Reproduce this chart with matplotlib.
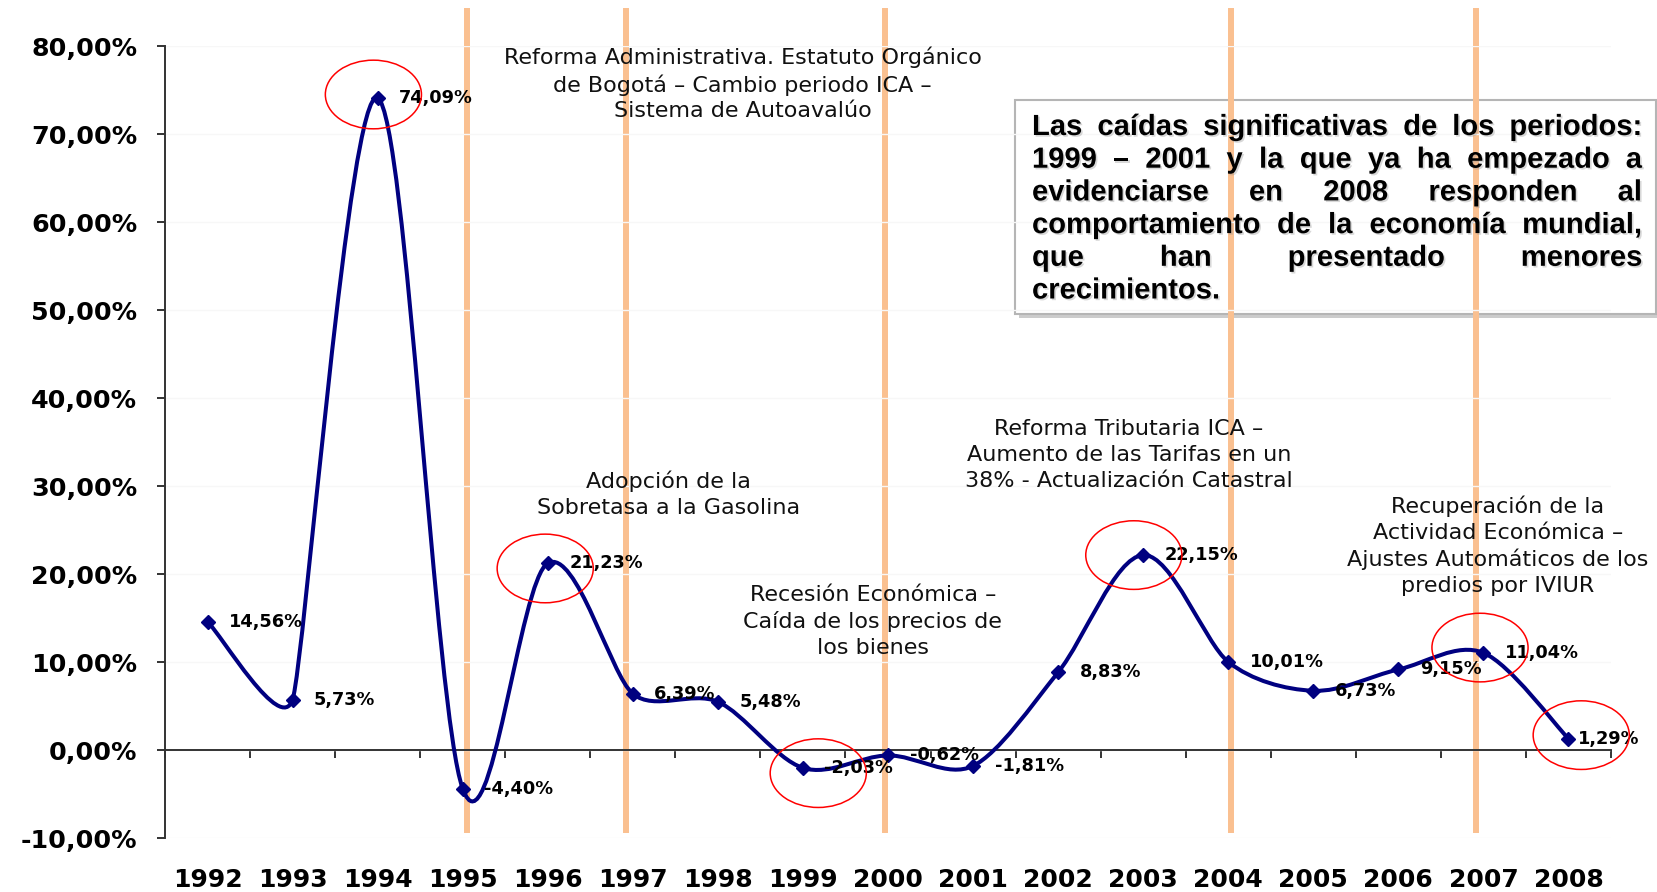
import numpy as np
import matplotlib
matplotlib.use("Agg")
import matplotlib.pyplot as plt
import matplotlib.patheffects as pe
from matplotlib.path import Path
from matplotlib.patches import PathPatch, Ellipse, Rectangle
from matplotlib.ticker import FuncFormatter

# crecimiento anual del recaudo (%)
years = [1992, 1993, 1994, 1995, 1996, 1997, 1998, 1999, 2000,
         2001, 2002, 2003, 2004, 2005, 2006, 2007, 2008]
growth = [14.56, 5.73, 74.09, -4.40, 21.23, 6.39, 5.48, -2.03, -0.62,
          -1.81, 8.83, 22.15, 10.01, 6.73, 9.15, 11.04, 1.29]
y_ticks = [-10, 0, 10, 20, 30, 40, 50, 60, 70, 80]

# años con hechos relevantes (líneas verticales) y puntos resaltados
event_years = [1995, 1997, 2000, 2004, 2007]
highlight_years = [1994, 1996, 1999, 2003, 2007, 2008]

event_notes = [
    "Reforma Administrativa. Estatuto Orgánico\nde Bogotá – Cambio periodo ICA –\nSistema de Autoavalúo",
    "Adopción de la\nSobretasa a la Gasolina",
    "Recesión Económica –\nCaída de los precios de\nlos bienes",
    "Reforma Tributaria ICA –\nAumento de las Tarifas en un\n38% - Actualización Catastral",
    "Recuperación de la\nActividad Económica –\nAjustes Automáticos de los\npredios por IVIUR",
]
note_pos = [(6.79, 75.7), (5.92, 29.1), (8.32, 14.6), (11.33, 33.5), (15.67, 23.2)]

box_lines = [
    "Las caídas significativas de los periodos:",
    "1999 – 2001 y la que ya ha empezado a",
    "evidenciarse en 2008 responden al",
    "comportamiento de la economía mundial,",
    "que han presentado menores",
    "crecimientos.",
]

W, H = 1658, 892
NAVY = "#000080"
ORANGE = "#FAC090"


def pct(v):
    return f"{v:.2f}".replace(".", ",") + "%"


def smooth_curve(ax, xs, ys):
    # catmull-rom en pixeles, con la tangente limitada por el tramo más corto
    pts = ax.transData.transform(np.column_stack([xs, ys]))
    n = len(pts)
    verts = [pts[0]]
    codes = [Path.MOVETO]

    def handle(t, d_a, d_b):
        size = np.linalg.norm(t) / 6
        cap = min(d_a, d_b) / 3
        return t * min(1.0, cap / size) / 6

    for i in range(n - 1):
        p1, p2 = pts[i], pts[i + 1]
        p0 = pts[i - 1] if i > 0 else p1
        p3 = pts[i + 2] if i + 2 < n else p2
        d12 = np.linalg.norm(p2 - p1)
        d01 = np.linalg.norm(p1 - p0) if i > 0 else d12
        d23 = np.linalg.norm(p3 - p2) if i + 2 < n else d12
        c1 = p1 + handle(p2 - p0, d01, d12)
        c2 = p2 - handle(p3 - p1, d12, d23)
        verts += [c1, c2, p2]
        codes += [Path.CURVE4] * 3
    verts = ax.transData.inverted().transform(np.array(verts))
    return Path(verts, codes)


fig = plt.figure(figsize=(W / 100, H / 100), dpi=100, facecolor="white")
ax = fig.add_axes([165 / W, 1 - 838 / H, (1611 - 165) / W, (838 - 46) / H])
ax.patch.set_visible(False)

xpos = np.arange(len(years)) + 0.5
ax.set_xlim(0, len(years))
ax.set_ylim(-10, 80)

# ejes
for s in ["top", "right"]:
    ax.spines[s].set_visible(False)
ax.spines["bottom"].set_position(("data", 0))
for s in ["left", "bottom"]:
    ax.spines[s].set_color("#333333")
    ax.spines[s].set_linewidth(1.4)
ax.set_xticks(np.arange(len(years) + 1))
ax.tick_params(axis="x", direction="out", length=6, width=1.4,
               color="#333333", labelbottom=False)
ax.set_yticks(y_ticks)
ax.yaxis.set_major_formatter(FuncFormatter(lambda v, _: pct(v)))
ax.tick_params(axis="y", direction="out", length=6, width=1.4,
               color="#333333", pad=14)
for lab in ax.get_yticklabels():
    lab.set_fontfamily("DejaVu Sans")
    lab.set_fontweight("bold")
    lab.set_fontsize(18.3)

for x, yr in zip(xpos, years):
    ax.text(x, -0.053, str(yr), transform=ax.get_xaxis_transform(),
            ha="center", va="center", fontsize=18, fontweight="bold",
            family="DejaVu Sans", color="black")

# líneas de eventos (dibujadas a mano, algo corridas) y cuadrícula casi blanca
event_shift = [0.05, -0.08, -0.03, 0.03, -0.09]
for yr, sh in zip(event_years, event_shift):
    ax.axvline(years.index(yr) + 0.5 + sh, ymin=0.0101, ymax=1.0442,
               color=ORANGE, lw=4.3, clip_on=False, zorder=0.5)
ax.grid(axis="y", color="#f7f7f7", lw=1.0, zorder=0.8)
ax.set_axisbelow(True)

# serie suavizada
curve = smooth_curve(ax, xpos, growth)
ax.add_patch(PathPatch(curve, facecolor="none", edgecolor=NAVY,
                       lw=2.9, zorder=3, capstyle="round"))
ax.plot(xpos, growth, linestyle="none", marker="D", ms=7.5,
        color=NAVY, zorder=4, clip_on=False)

for i, (x, v) in enumerate(zip(xpos, growth)):
    dx = 7 if i == len(growth) - 1 else 15.5
    ax.annotate(pct(v), (x, v), xytext=(dx, 0), textcoords="offset points",
                ha="left", va="center", fontsize=12.8, fontweight="bold",
                family="DejaVu Sans", color="black", zorder=5,
                annotation_clip=False)

# elipses rojas de resaltado
ell_shift = [(-0.05, 0.4), (-0.03, -0.6), (0.18, -0.6),
             (-0.11, 0.0), (-0.04, 0.6), (0.15, 0.4)]
for yr, (ox, oy) in zip(highlight_years, ell_shift):
    i = years.index(yr)
    ax.add_patch(Ellipse((xpos[i] + ox, growth[i] + oy), width=1.13,
                         height=7.8, facecolor="none", edgecolor="red",
                         lw=1.1, zorder=5, clip_on=False))

# notas de eventos
for txt, (x, y) in zip(event_notes, note_pos):
    ax.text(x, y, txt, ha="center", va="center", multialignment="center",
            fontsize=16, family="DejaVu Sans", color="#111111",
            linespacing=1.36, zorder=6)

# recuadro de texto
box = Rectangle((1015 / W, 1 - 314 / H), (1656 - 1015) / W, (314 - 100) / H,
                transform=fig.transFigure, facecolor="white",
                edgecolor="#b5b5b5", lw=1.5, zorder=-1,
                path_effects=[pe.SimplePatchShadow(offset=(3, -3),
                                                   shadow_rgbFace="#9a9a9a",
                                                   alpha=0.5),
                              pe.Normal()])
fig.patches.append(box)

renderer = fig.canvas.get_renderer()
left_px, right_px = 1032, 1642
kw = dict(fontsize=21, fontweight="bold", family="Liberation Sans",
          color="black", va="baseline", ha="left",
          path_effects=[pe.withSimplePatchShadow(offset=(1.2, -1.2),
                                                 shadow_rgbFace="#909090",
                                                 alpha=0.35)])
for i, line in enumerate(box_lines):
    words = line.split()
    y = 1 - (135 + i * 32.7) / H
    texts = [fig.text(0, y, w, **kw) for w in words]
    widths = [t.get_window_extent(renderer).width for t in texts]
    if i < len(box_lines) - 1 and len(words) > 1:
        gap = (right_px - left_px - sum(widths)) / (len(words) - 1)
    else:
        gap = 8
    x = left_px
    for t, w in zip(texts, widths):
        t.set_x(x / W)
        x += w + gap

fig.savefig("out.png", dpi=100, facecolor="white")
